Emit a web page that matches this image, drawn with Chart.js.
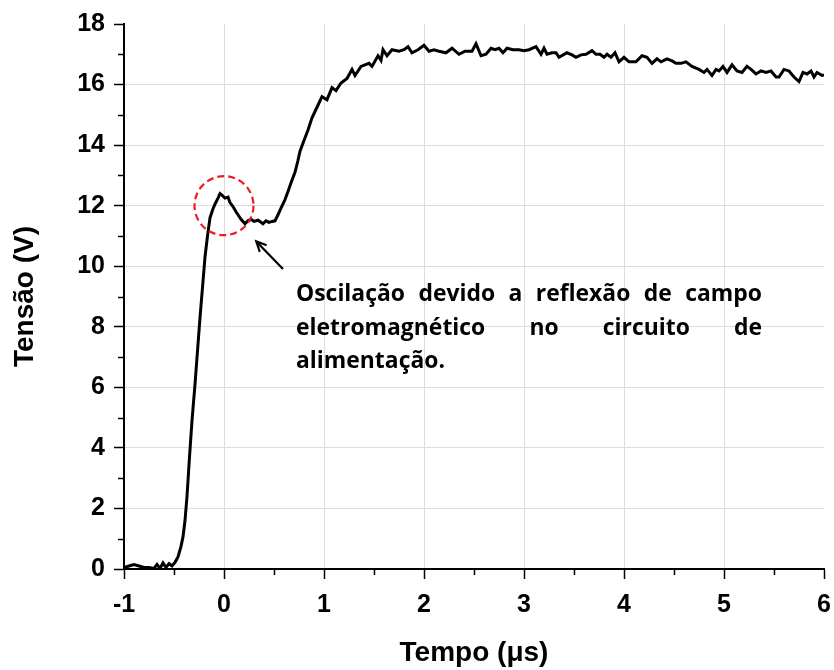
<!DOCTYPE html>
<html>
<head>
<meta charset="utf-8">
<script src="https://cdn.jsdelivr.net/npm/chart.js@4.4.0/dist/chart.umd.min.js"></script>
<style>
  html, body { margin: 0; padding: 0; background: #fff; }
  #wrap { width: 834px; height: 670px; position: relative; }
</style>
</head>
<body>
<div id="wrap"><canvas id="c" width="834" height="670"></canvas></div>
<script>
// ---- data ----
const tempo = [
  -1.00,-0.95,-0.90,-0.85,-0.80,-0.75,-0.70,-0.67,-0.64,-0.61,-0.58,-0.55,-0.52,-0.49,-0.46,-0.43,-0.41,-0.39,-0.37,-0.345,
  -0.32,-0.29,-0.265,-0.24,-0.215,-0.19,-0.165,-0.14,-0.11,-0.09,-0.06,-0.04,-0.02,0.01,0.04,0.06,0.09,0.12,0.14,0.17,
  0.21,0.24,0.27,0.30,0.34,0.37,0.39,0.42,0.45,0.48,0.51,0.54,0.57,0.61,0.64,0.675,0.71,0.74,0.76,0.80,
  0.84,0.88,0.93,0.98,1.03,1.08,1.12,1.17,1.23,1.28,1.31,1.37,1.41,1.45,1.48,1.54,1.57,1.59,1.63,1.68,
  1.75,1.80,1.84,1.88,1.94,2.00,2.05,2.10,2.15,2.22,2.28,2.35,2.41,2.48,2.52,2.57,2.62,2.67,2.71,2.75,
  2.79,2.83,2.89,2.95,3.00,3.05,3.12,3.17,3.20,3.23,3.28,3.32,3.35,3.43,3.48,3.52,3.57,3.62,3.68,3.72,
  3.76,3.80,3.83,3.87,3.91,3.95,4.00,4.05,4.12,4.18,4.23,4.28,4.33,4.37,4.43,4.48,4.52,4.57,4.62,4.68,
  4.75,4.80,4.83,4.88,4.92,4.95,4.99,5.03,5.08,5.13,5.18,5.23,5.27,5.32,5.37,5.42,5.47,5.52,5.55,5.60,
  5.65,5.70,5.75,5.79,5.83,5.87,5.90,5.93,5.98,6.00
];
const tensao = [
  0.05,0.10,0.15,0.10,0.05,0.05,0.02,0.15,0.02,0.20,0.05,0.18,0.10,0.22,0.40,0.75,1.06,1.60,2.40,3.70,
  4.90,6.10,7.20,8.30,9.30,10.30,11.00,11.60,11.90,12.05,12.25,12.40,12.35,12.25,12.28,12.10,11.97,11.80,11.70,11.55,
  11.40,11.50,11.55,11.48,11.52,11.45,11.40,11.50,11.45,11.48,11.50,11.70,11.92,12.20,12.47,12.80,13.10,13.50,13.80,14.15,
  14.50,14.90,15.25,15.60,15.50,15.90,15.80,16.05,16.20,16.50,16.30,16.60,16.65,16.70,16.60,16.95,16.80,17.15,16.95,17.15,
  17.10,17.15,17.25,17.05,17.15,17.30,17.10,17.15,17.10,17.05,17.20,17.00,17.10,17.10,17.35,16.95,17.00,17.20,17.15,17.20,
  17.05,17.20,17.15,17.15,17.12,17.15,17.25,17.00,17.20,17.00,17.05,17.05,16.90,17.05,16.98,16.90,16.98,17.00,17.12,17.00,
  17.00,16.90,17.00,16.90,17.05,16.75,16.90,16.75,16.75,16.95,16.90,16.70,16.85,16.75,16.85,16.78,16.70,16.70,16.75,16.60,
  16.50,16.40,16.50,16.30,16.50,16.45,16.60,16.40,16.65,16.45,16.40,16.60,16.50,16.35,16.45,16.40,16.45,16.25,16.25,16.50,
  16.45,16.25,16.10,16.40,16.35,16.45,16.25,16.40,16.30,16.32
];
const xTicks = [-1, 0, 1, 2, 3, 4, 5, 6];
const yTicks = [0, 2, 4, 6, 8, 10, 12, 14, 16, 18];
const xTitle = 'Tempo (\u03BCs)';
const yTitle = 'Tensão (V)';
const noteLines = ['Oscilação devido a reflexão de campo', 'eletromagnético no circuito de', 'alimentação.'];
const circleCenter = [0.0, 12.0];      // data coords of dashed circle centre
const arrowFrom = [0.59, 9.91];        // data coords
const arrowTo = [0.323, 10.82];
const noteAnchor = [0.72, 8.85];       // data coords of first text line baseline-left

const points = tempo.map((t, i) => ({ x: t, y: tensao[i] }));

const annot = {
  id: 'annot',
  afterDraw(chart) {
    const { ctx, scales: { x, y } } = chart;
    ctx.save();
    // minor ticks
    ctx.strokeStyle = '#000';
    ctx.lineWidth = 1.5;
    const left = chart.chartArea.left, bottom = chart.chartArea.bottom;
    for (let v = 1; v < 18; v += 2) {
      const py = Math.round(y.getPixelForValue(v)) + 0.5;
      ctx.beginPath(); ctx.moveTo(left - 6, py); ctx.lineTo(left, py); ctx.stroke();
    }
    for (let v = -0.5; v < 6; v += 1) {
      const px = Math.round(x.getPixelForValue(v)) + 0.5;
      ctx.beginPath(); ctx.moveTo(px, bottom); ctx.lineTo(px, bottom + 6); ctx.stroke();
    }
    // dashed circle
    const cx = x.getPixelForValue(circleCenter[0]);
    const cy = y.getPixelForValue(circleCenter[1]);
    ctx.strokeStyle = '#ee1c25';
    ctx.lineWidth = 2.2;
    ctx.setLineDash([7, 4]);
    ctx.beginPath(); ctx.arc(cx, cy, 29.5, 0, Math.PI * 2); ctx.stroke();
    ctx.setLineDash([]);
    // arrow
    const ax0 = x.getPixelForValue(arrowFrom[0]), ay0 = y.getPixelForValue(arrowFrom[1]);
    const ax1 = x.getPixelForValue(arrowTo[0]), ay1 = y.getPixelForValue(arrowTo[1]);
    ctx.strokeStyle = '#000';
    ctx.lineWidth = 2.2;
    ctx.beginPath(); ctx.moveTo(ax0, ay0); ctx.lineTo(ax1, ay1); ctx.stroke();
    const ang = Math.atan2(ay1 - ay0, ax1 - ax0);
    const hl = 11, ha = 0.45;
    ctx.beginPath();
    ctx.moveTo(ax1 - hl * Math.cos(ang - ha), ay1 - hl * Math.sin(ang - ha));
    ctx.lineTo(ax1, ay1);
    ctx.lineTo(ax1 - hl * Math.cos(ang + ha), ay1 - hl * Math.sin(ang + ha));
    ctx.stroke();
    // justified note text
    ctx.fillStyle = '#000';
    ctx.font = 'bold 23px "Open Sans"';
    ctx.textBaseline = 'alphabetic';
    const tx = x.getPixelForValue(noteAnchor[0]);
    const ty = y.getPixelForValue(noteAnchor[1]);
    const boxW = 466, lineH = 33.6;
    const spaceW = ctx.measureText(' ').width;
    const natural = ctx.measureText(noteLines[0]).width + 7 * spaceW * 0.9;
    const sx = Math.min(1, boxW / natural);
    ctx.translate(tx, 0);
    ctx.scale(sx, 1);
    const innerW = boxW / sx;
    noteLines.forEach((line, i) => {
      const words = line.split(' ');
      const base = ty + i * lineH;
      if (i < noteLines.length - 1 && words.length > 1) {
        const widths = words.map(w => ctx.measureText(w).width);
        const total = widths.reduce((a, b) => a + b, 0);
        const gap = (innerW - total) / (words.length - 1);
        let px = 0;
        words.forEach((w, k) => { ctx.fillText(w, px, base); px += widths[k] + gap; });
      } else {
        ctx.fillText(line, 0, base);
      }
    });
    ctx.restore();
  }
};

new Chart(document.getElementById('c'), {
  type: 'line',
  data: {
    datasets: [{
      data: points,
      borderColor: '#000',
      borderWidth: 3,
      pointRadius: 0,
      tension: 0,
      fill: false
    }]
  },
  options: {
    responsive: false,
    animation: false,
    devicePixelRatio: 1,
    layout: { padding: { top: 23, right: 10, left: 0, bottom: 0 } },
    plugins: { legend: { display: false }, tooltip: { enabled: false } },
    scales: {
      x: {
        type: 'linear',
        min: -1, max: 6,
        afterBuildTicks: s => { s.ticks = xTicks.map(v => ({ value: v })); },
        afterFit: s => { s.height = 101; s.paddingRight = 0; },
        border: { color: '#000', width: 2 },
        grid: {
          color: c => (c.tick && (c.tick.value === -1 || c.tick.value === 6)) ? 'rgba(0,0,0,0)' : '#dcdcdc',
          lineWidth: 1,
          tickColor: '#000',
          tickLength: 10,
          tickWidth: 1.5
        },
        ticks: {
          color: '#000',
          font: { family: 'Liberation Sans', weight: 'bold', size: 25 },
          padding: 11,
          maxRotation: 0,
          callback: v => String(v)
        },
        title: {
          display: true,
          text: xTitle,
          color: '#000',
          font: { family: 'Liberation Sans', weight: 'bold', size: 28 },
          padding: { top: 2, bottom: 0 }
        }
      },
      y: {
        min: 0, max: 18,
        afterBuildTicks: s => { s.ticks = yTicks.map(v => ({ value: v })); },
        afterFit: s => { s.width = 124; },
        border: { color: '#000', width: 2 },
        grid: {
          color: c => (c.tick && (c.tick.value === 0 || c.tick.value === 18)) ? 'rgba(0,0,0,0)' : '#dcdcdc',
          lineWidth: 1,
          tickColor: '#000',
          tickLength: 10,
          tickWidth: 1.5
        },
        ticks: {
          color: '#000',
          font: { family: 'Liberation Sans', weight: 'bold', size: 25 },
          padding: 9,
          callback: v => String(v)
        },
        title: {
          display: true,
          text: yTitle,
          color: '#000',
          font: { family: 'Liberation Sans', weight: 'bold', size: 28 },
          padding: { top: 8, bottom: 0 }
        }
      }
    }
  },
  plugins: [annot]
});
</script>
</body>
</html>
